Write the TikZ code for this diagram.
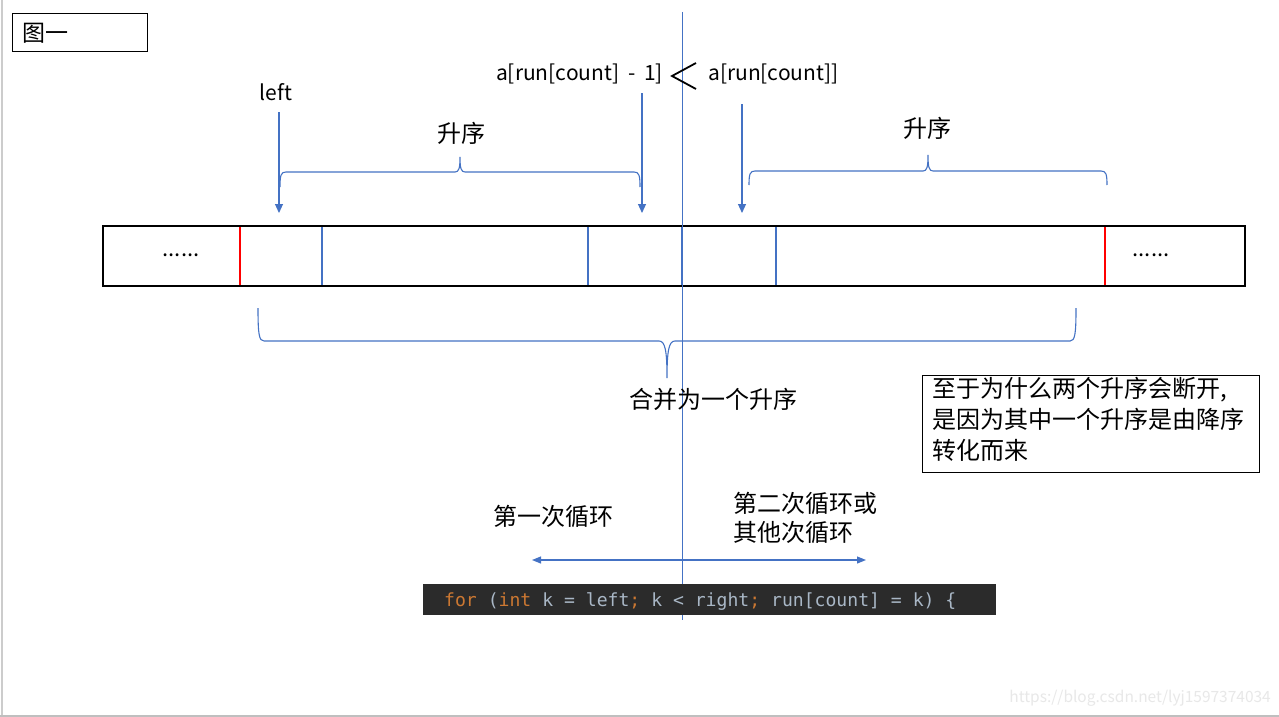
\documentclass[tikz,border=0pt]{standalone}
\usepackage{fontspec}
\setmainfont{Noto Sans CJK SC}
\setmonofont{DejaVu Sans Mono}
\usetikzlibrary{arrows.meta}
\definecolor{ublue}{HTML}{4472C4}
\definecolor{ured}{HTML}{FF0000}
\definecolor{codebg}{HTML}{2B2B2B}
\definecolor{kw}{HTML}{CC7832}
\definecolor{plain}{HTML}{A9B7C6}
\definecolor{wm}{HTML}{E8E8E8}
\tikzset{
  txt/.style={inner sep=0pt, font=\fontsize{24}{30}\selectfont},
  lbl/.style={inner sep=0pt, font=\fontsize{21}{26}\selectfont},
  boxtxt/.style={inner sep=0pt, font=\fontsize{24}{31}\selectfont, align=left},
  bluearrow/.style={ublue, line width=1.1pt, -{Triangle[length=9pt,width=8pt]}},
  brace/.style={ublue, line width=1.1pt},
  divider/.style={ublue, line width=2pt},
  redline/.style={ured, line width=2pt},
  frame/.style={draw=black, line width=1.2pt},
}
\begin{document}
\begin{tikzpicture}[x=1pt,y=-1pt]
\useasboundingbox (0,0) rectangle (1279,717);
\fill[white] (0,0) rectangle (1279,717);
\draw[black!20, line width=1.5pt] (2,0) -- (2,717);
\draw[black!25, line width=1.5pt] (0,716) -- (1279,716);

% title box
\node[frame, minimum width=135pt, minimum height=38pt, anchor=north west, inner sep=0pt] (title) at (12,13) {};
\node[txt, anchor=west, font=\fontsize{23}{28}\selectfont] (titletxt) at (22,33) {图一};

% strip
\draw[line width=1.3pt] (103,226) rectangle (1245,286);
\draw[redline] (240,227) -- (240,285);
\draw[redline] (1105,227) -- (1105,285);
\draw[divider] (322,227) -- (322,285);
\draw[divider] (588,227) -- (588,285);
\draw[divider] (682,227) -- (682,285);
\draw[divider] (776,227) -- (776,285);
\node[txt, anchor=center, font=\fontsize{22}{26}\selectfont] (dotsL) at (181,255) {......};
\node[txt, anchor=center, font=\fontsize{22}{26}\selectfont] (dotsR) at (1151,255) {......};

% central vertical line
\coordinate (vtop) at (682,12);
\coordinate (vbot) at (682,620);
\draw[ublue, line width=1pt] (vtop) -- (vbot);

% top labels
\node[lbl, anchor=center] (left) at (276,92) {left};
\node[lbl, anchor=east] (prev) at (663,74) {a[run[count]\hspace{4pt} -\hspace{4pt} 1]};
\node[lbl, anchor=west] (cur) at (708,74) {a[run[count]]};
\draw[black, line width=1.8pt, line join=miter] (696,63) -- (672,76) -- (696,89);

% arrows
\coordinate (a1s) at (279,112); \coordinate (a1e) at (279,213);
\coordinate (a2s) at (642,93);  \coordinate (a2e) at (642,213);
\coordinate (a3s) at (742,104); \coordinate (a3e) at (742,213);
\draw[bluearrow] (a1s) -- (a1e);
\draw[bluearrow] (a2s) -- (a2e);
\draw[bluearrow] (a3s) -- (a3e);

% upper braces
\draw[brace] (280,187) .. controls (280,175) and (281,172) .. (286,172) -- (455,172)
  .. controls (459,172) and (460,168) .. (460,157)
  .. controls (460,168) and (461,172) .. (465,172) -- (634,172)
  .. controls (639,172) and (640,175) .. (640,187);
\draw[brace] (749,185) .. controls (749,174) and (750,171) .. (755,171) -- (923,171)
  .. controls (927,171) and (928,167) .. (928,155)
  .. controls (928,167) and (929,171) .. (933,171) -- (1101,171)
  .. controls (1106,171) and (1107,174) .. (1107,185);
\node[txt, anchor=center] (asc1) at (461,133) {升序};
\node[txt, anchor=center] (asc2) at (927,128) {升序};

% lower brace
\draw[brace] (258,308) .. controls (258,334) and (259,341) .. (264,341) -- (659,341)
  .. controls (665,341) and (667,350) .. (667,378)
  .. controls (667,350) and (669,341) .. (675,341) -- (1070,341)
  .. controls (1075,341) and (1076,334) .. (1076,308);
\node[txt, anchor=center] (merge) at (713,399) {合并为一个升序};

% note box
\node[frame, minimum width=337pt, minimum height=97pt, anchor=north west, inner sep=0pt] (note) at (922,375) {};
\node[boxtxt, anchor=north west] (notetxt) at (932,377) {至于为什么两个升序会断开,\\是因为其中一个升序是由降序\\转化而来};

% loop labels
\node[txt, anchor=center] (first) at (553,516) {第一次循环};
\node[txt, anchor=west, align=left, font=\fontsize{24}{29}\selectfont] (second) at (733,518) {第二次循环或\\其他次循环};
\coordinate (dl) at (532,560); \coordinate (dr) at (866,560);
\draw[ublue, line width=1.1pt, {Triangle[length=9pt,width=7pt]}-{Triangle[length=9pt,width=7pt]}] (dl) -- (dr);

% code
\fill[codebg] (423,584) rectangle (996,615);
\node[inner sep=0pt, anchor=base west, font=\ttfamily\fontsize{18.1}{20}\selectfont] (code) at (444,606)
 {\textcolor{kw}{for}\ \textcolor{plain}{(}\textcolor{kw}{int}\ \textcolor{plain}{k\ =\ left}\textcolor{kw}{;}\ \textcolor{plain}{k\ <\ right}\textcolor{kw}{;}\ \textcolor{plain}{run[count]\ =\ k)\ \{}};

% watermark
\node[inner sep=0pt, anchor=east, text=wm, font=\fontsize{15.5}{18}\selectfont] (wmark) at (1271,698) {https://blog.csdn.net/lyj1597374034};
\end{tikzpicture}
\end{document}
